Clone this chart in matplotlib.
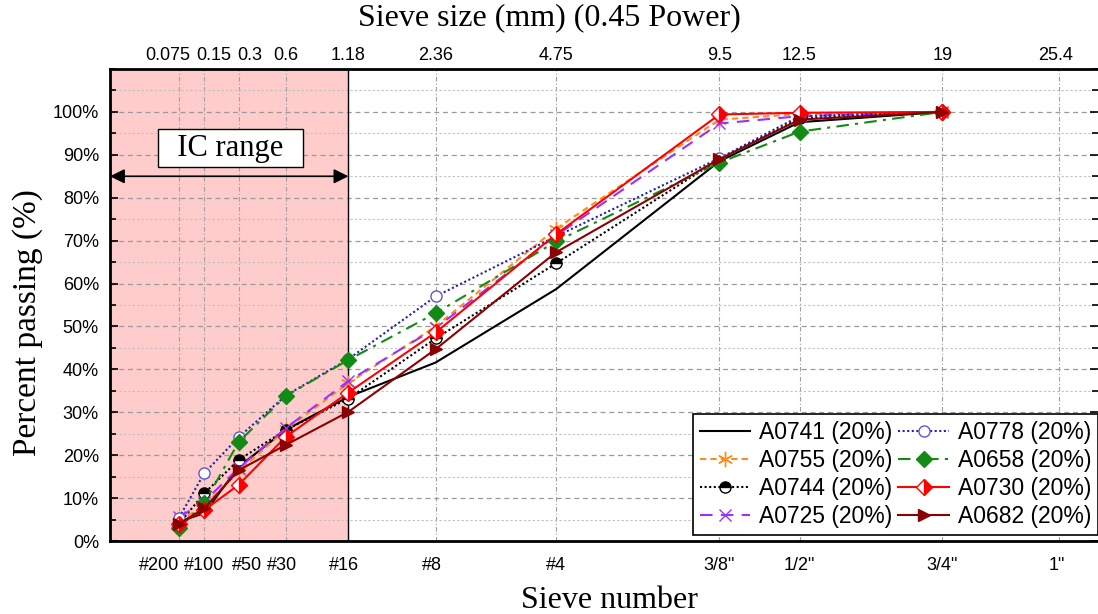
import numpy as np
import matplotlib.pyplot as plt
from matplotlib.ticker import MultipleLocator

plt.rcParams['font.family'] = ['Liberation Sans', 'DejaVu Sans']
SERIF = ['Liberation Serif', 'DejaVu Serif']

# sieve openings (mm) and percent passing for each mix
sizes_mm = [0.075, 0.15, 0.3, 0.6, 1.18, 2.36, 4.75, 9.5, 12.5, 19]

A0741 = [4.5, 6.5, 17.3, 25.9, 33.6, 41.6, 58.7, 88.5, 97.6, 100]
A0755 = [4.5, 8.3, 16.2, 26.0, 36.8, 50.0, 72.8, 98.2, 99.5, 100]
A0744 = [4.0, 11.1, 18.9, 25.9, 33.2, 47.2, 64.7, 89.0, 98.5, 100]
A0725 = [5.5, 9.2, 17.0, 26.3, 37.3, 49.6, 71.2, 97.3, 99.0, 100]
A0778 = [5.4, 15.8, 24.2, 33.9, 42.4, 57.0, 71.0, 89.2, 99.0, 100]
A0658 = [3.0, 8.8, 23.1, 33.8, 42.2, 53.1, 69.8, 88.2, 95.4, 100]
A0730 = [4.0, 7.2, 13.1, 24.3, 34.6, 48.6, 71.5, 99.4, 99.8, 100]
A0682 = [4.0, 7.6, 16.5, 22.4, 30.1, 44.7, 67.3, 89.0, 98.2, 100]

tick_sizes = [0.075, 0.15, 0.3, 0.6, 1.18, 2.36, 4.75, 9.5, 12.5, 19, 25.4]
size_labels = ['0.075', '0.15', '0.3', '0.6', '1.18', '2.36', '4.75', '9.5', '12.5', '19', '25.4']
sieve_names = ['#200', '#100', '#50', '#30', '#16', '#8', '#4', '3/8"', '1/2"', '3/4"', '1"']
# small horizontal nudges (pixels) so crowded labels don't overlap
top_dx = [-11, 10, 11, 0, 0, 0, 0, 0, 0, 0, -3]
bot_dx = [-20, 0, 8, -4, -4, -4, 0, 0, 0, 0, -2]

ic_limit = 1.18


def fwd(s):
    return np.power(np.clip(s, 0, None), 0.45)


def inv(t):
    return np.power(np.clip(t, 0, None), 1 / 0.45)


fig = plt.figure(figsize=(10.98, 6.14), dpi=100)
ax = fig.add_axes([110 / 1098, 73 / 614, 988 / 1098, 472 / 614])
ax.set_xscale('function', functions=(fwd, inv))
ax.set_xlim(0, 27.8)
ax.set_ylim(0, 110)

# IC range shading
ax.axvspan(0, ic_limit, facecolor='#ffcccc', edgecolor='none', zorder=0)
ax.axvline(ic_limit, color='black', lw=1.0, zorder=1)

series = [
    ('A0741 (20%)', A0741, dict(color='black', ls='-', marker=None)),
    ('A0755 (20%)', A0755, dict(color='#ff8c1a', ls=(0, (3, 2)), marker=(6, 2, 0), ms=11, mew=1.0)),
    ('A0744 (20%)', A0744, dict(color='black', ls=(0, (1, 1.2)), marker='o', ms=8, fillstyle='top',
                                mfc='black', mfcalt='white', mec='black', mew=1.0)),
    ('A0725 (20%)', A0725, dict(color='#9b30ff', ls=(0, (6, 4)), marker='x', ms=9, mew=1.0)),
    ('A0778 (20%)', A0778, dict(color='#2222aa', ls=(0, (1, 1.2)), marker='o', ms=8, mfc='white',
                                mec='#5a5ad0', mew=1.0)),
    ('A0658 (20%)', A0658, dict(color='#138a13', ls=(0, (6, 3, 1.5, 3)), marker='D', ms=8)),
    ('A0730 (20%)', A0730, dict(color='#ff0000', ls='-', marker='D', ms=8, fillstyle='right',
                                mfc='#ff0000', mfcalt='white', mec='#ff0000', mew=1.0)),
    ('A0682 (20%)', A0682, dict(color='#8b0000', ls='-', marker='>', ms=9)),
]

for name, vals, style in series:
    ax.plot(sizes_mm, vals, lw=1.5, label=name, zorder=3, **style)

# grid and ticks
ax.set_xticks(tick_sizes)
ax.set_xticklabels([])
ax.tick_params(axis='x', length=0)
ax.set_yticks(range(0, 101, 10))
ax.set_yticklabels([f'{v}%' for v in range(0, 101, 10)], fontsize=13)
ax.yaxis.set_minor_locator(MultipleLocator(5))
ax.tick_params(axis='y', which='both', direction='in', right=True, width=1.2, pad=8)
ax.tick_params(axis='y', which='major', length=6)
ax.tick_params(axis='y', which='minor', length=4)
ax.set_axisbelow(True)
ax.grid(axis='x', which='major', color='#a0a0a0', ls=(0, (4, 2, 1, 2)), lw=0.8)
ax.grid(axis='y', which='major', color='#9a9a9a', ls=(0, (4, 3)), lw=0.9)
ax.grid(axis='y', which='minor', color='#c0c0c0', ls=(0, (2, 2)), lw=0.8)

for side in ['left', 'bottom', 'top']:
    ax.spines[side].set_linewidth(2)
ax.spines['right'].set_visible(False)

for s, top, bot, dt, db in zip(tick_sizes, size_labels, sieve_names, top_dx, bot_dx):
    ax.annotate(top, xy=(s, 1), xycoords=('data', 'axes fraction'), xytext=(dt, 14),
                textcoords='offset pixels', ha='center', va='center', fontsize=13)
    ax.annotate(bot, xy=(s, 0), xycoords=('data', 'axes fraction'), xytext=(db, -24),
                textcoords='offset pixels', ha='center', va='center', fontsize=13)

fig.text(0.5, 1 - 18 / 614, 'Sieve size (mm) (0.45 Power)', ha='center', va='center',
         fontsize=23, family=SERIF)
fig.text(609 / 1098, 1 - 600 / 614, 'Sieve number', ha='center', va='center',
         fontsize=23, family=SERIF)
fig.text(28 / 1098, 1 - 323 / 614, 'Percent passing (%)', ha='center', va='center',
         rotation=90, fontsize=24, family=SERIF)

# IC range arrow and label
ax.annotate('', xy=(0, 85), xytext=(ic_limit, 85),
            arrowprops=dict(arrowstyle='<|-|>', color='black', lw=1.2, mutation_scale=22,
                            shrinkA=0, shrinkB=0), zorder=4)
ax.text(0.122, 0.8326, '  IC range  ', transform=ax.transAxes, ha='center', va='center',
        fontsize=22, family=SERIF, zorder=5,
        bbox=dict(boxstyle='square,pad=0.15', facecolor='white', edgecolor='black', lw=1))

leg = ax.legend(ncol=2, loc='lower left', bbox_to_anchor=(0.59, 0.012), fontsize=16.5,
                frameon=True, fancybox=False, edgecolor='black', framealpha=1,
                handlelength=2.2, handletextpad=0.4, columnspacing=0.25, labelspacing=0.22,
                borderpad=0.3, borderaxespad=0)
leg.get_frame().set_linewidth(1.2)
leg.set_zorder(6)

fig.savefig('out.png', dpi=100)
